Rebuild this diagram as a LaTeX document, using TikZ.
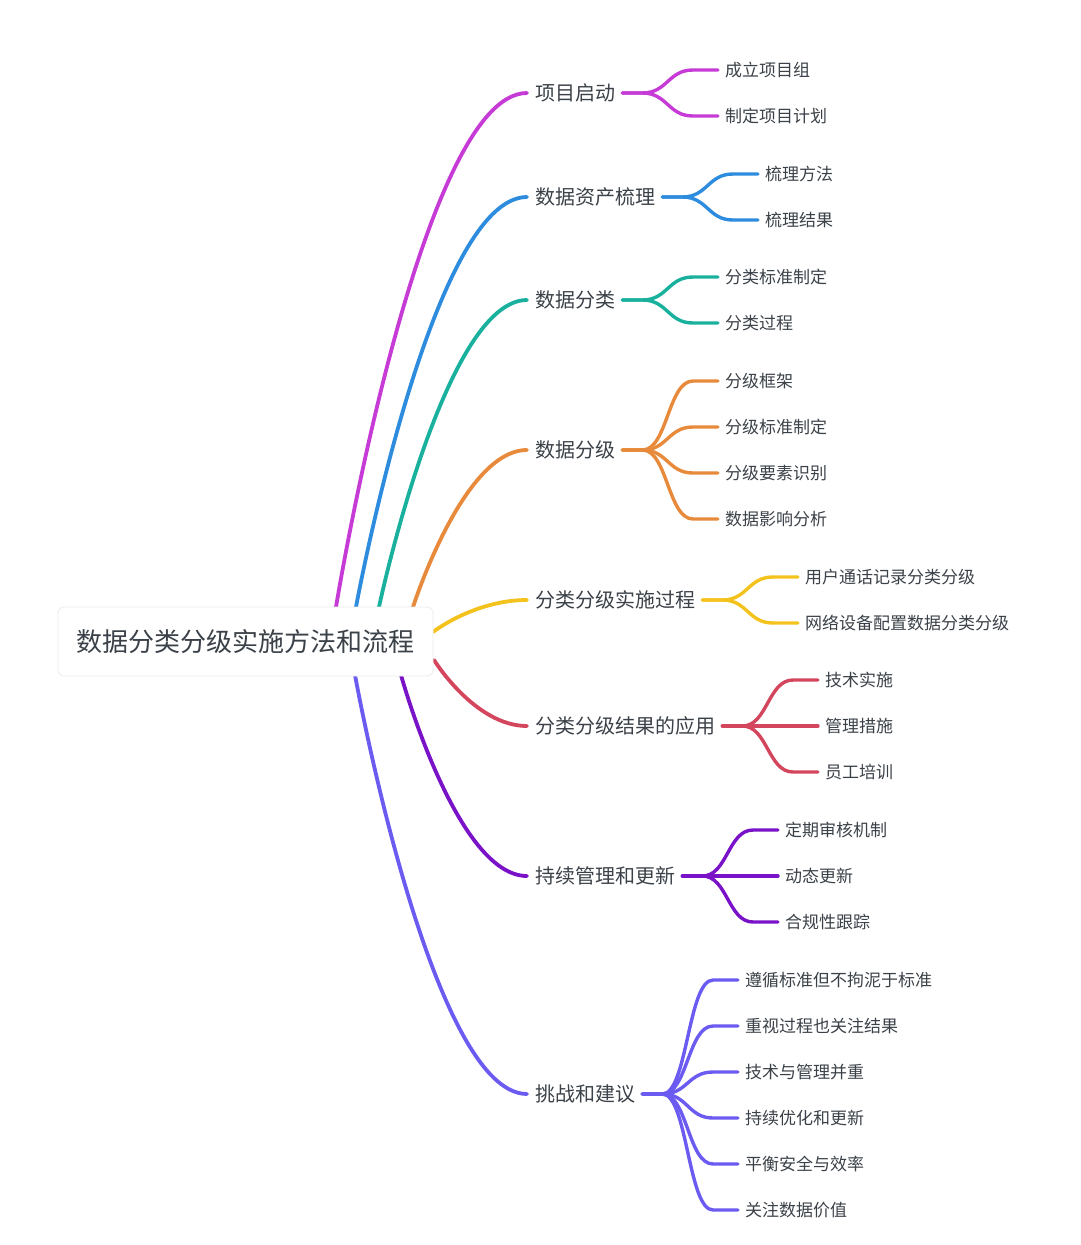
\documentclass[tikz,border=0pt]{standalone}
\usepackage{fontspec}
\setmainfont{Noto Sans CJK SC}
\usetikzlibrary{calc,backgrounds}
\definecolor{txt}{HTML}{3B4148}
\definecolor{rootline}{HTML}{ECECEC}
\definecolor{ca}{HTML}{C63AD6}
\definecolor{cb}{HTML}{2E8CDE}
\definecolor{cc}{HTML}{19B19D}
\definecolor{cd}{HTML}{E88A3B}
\definecolor{ce}{HTML}{F4C21D}
\definecolor{cf}{HTML}{D4465D}
\definecolor{cg}{HTML}{7A12C8}
\definecolor{ch}{HTML}{6B5BF1}
\tikzset{
  rootbox/.style={draw=rootline, line width=0.8pt, fill=white, rounded corners=6pt, minimum width=375pt, minimum height=69pt, inner sep=0pt, font=\fontsize{26}{30}\selectfont, text=txt},
  lone/.style={anchor=west, inner sep=0pt, font=\fontsize{20}{24}\selectfont, text=txt, text height=1.4em, text depth=0em},
  ltwo/.style={anchor=west, inner sep=0pt, font=\fontsize{17}{20}\selectfont, text=txt, text height=1.34em, text depth=0em},
  mainln/.style={line width=3.8pt, line cap=round},
  subln/.style={line width=3.4pt, line cap=round}
}
\newcommand\mainlink[3]{%
  \draw[mainln,#1] let \p1=(#2), \p2=([xshift=-8pt]#3.west) in
    (\p1) .. controls (\p1) and ({\x1+0.44*(\x2-\x1)},\y2) .. (\p2);}
\newcommand\sublink[3]{%
  \draw[subln,#1] ([xshift=7pt]#2.east) -- ([xshift=27pt]#2.east)
    .. controls +(25,0) and +(-25,0) .. ([xshift=-32pt]#3.west) -- ([xshift=-7pt]#3.west);}
\begin{document}
\begin{tikzpicture}[x=1pt,y=-1pt]
\useasboundingbox (0,0) rectangle (1080,1245);
% root
\node[rootbox] (root) at (245.5,641.5) {数据分类分级实施方法和流程};
\coordinate (s1) at (336,607);
\coordinate (s2) at (356,607);
\coordinate (s3) at (379,607);
\coordinate (s4) at (413,607);
\coordinate (s5) at (433,632);
\coordinate (s6) at (434,660);
\coordinate (s7) at (401,675);
\coordinate (s8) at (355,675);
% level 1
\node[lone] (n1) at (535,93) {项目启动};
\node[lone] (n2) at (535,197) {数据资产梳理};
\node[lone] (n3) at (535,300) {数据分类};
\node[lone] (n4) at (535,450) {数据分级};
\node[lone] (n5) at (535,600) {分类分级实施过程};
\node[lone] (n6) at (535,726) {分类分级结果的应用};
\node[lone] (n7) at (535,876) {持续管理和更新};
\node[lone] (n8) at (535,1094) {挑战和建议};
% level 2
\node[ltwo] (a1) at (725,70) {成立项目组};
\node[ltwo] (a2) at (725,116) {制定项目计划};
\node[ltwo] (b1) at (765,174) {梳理方法};
\node[ltwo] (b2) at (765,220) {梳理结果};
\node[ltwo] (c1) at (725,277) {分类标准制定};
\node[ltwo] (c2) at (725,323) {分类过程};
\node[ltwo] (d1) at (725,381) {分级框架};
\node[ltwo] (d2) at (725,427) {分级标准制定};
\node[ltwo] (d3) at (725,473) {分级要素识别};
\node[ltwo] (d4) at (725,519) {数据影响分析};
\node[ltwo] (e1) at (805,577) {用户通话记录分类分级};
\node[ltwo] (e2) at (805,623) {网络设备配置数据分类分级};
\node[ltwo] (f1) at (825,680) {技术实施};
\node[ltwo] (f2) at (825,726) {管理措施};
\node[ltwo] (f3) at (825,772) {员工培训};
\node[ltwo] (g1) at (785,830) {定期审核机制};
\node[ltwo] (g2) at (785,876) {动态更新};
\node[ltwo] (g3) at (785,922) {合规性跟踪};
\node[ltwo] (h1) at (745,980) {遵循标准但不拘泥于标准};
\node[ltwo] (h2) at (745,1026) {重视过程也关注结果};
\node[ltwo] (h3) at (745,1072) {技术与管理并重};
\node[ltwo] (h4) at (745,1118) {持续优化和更新};
\node[ltwo] (h5) at (745,1164) {平衡安全与效率};
\node[ltwo] (h6) at (745,1210) {关注数据价值};
% main links
\begin{scope}[on background layer]
\mainlink{ca}{s1}{n1}
\mainlink{cb}{s2}{n2}
\mainlink{cc}{s3}{n3}
\mainlink{cd}{s4}{n4}
\mainlink{ce}{s5}{n5}
\mainlink{cf}{s6}{n6}
\mainlink{cg}{s7}{n7}
\mainlink{ch}{s8}{n8}
\end{scope}
% sub links
\sublink{ca}{n1}{a1}
\sublink{ca}{n1}{a2}
\sublink{cb}{n2}{b1}
\sublink{cb}{n2}{b2}
\sublink{cc}{n3}{c1}
\sublink{cc}{n3}{c2}
\sublink{cd}{n4}{d1}
\sublink{cd}{n4}{d2}
\sublink{cd}{n4}{d3}
\sublink{cd}{n4}{d4}
\sublink{ce}{n5}{e1}
\sublink{ce}{n5}{e2}
\sublink{cf}{n6}{f1}
\sublink{cf}{n6}{f2}
\sublink{cf}{n6}{f3}
\sublink{cg}{n7}{g1}
\sublink{cg}{n7}{g2}
\sublink{cg}{n7}{g3}
\sublink{ch}{n8}{h1}
\sublink{ch}{n8}{h2}
\sublink{ch}{n8}{h3}
\sublink{ch}{n8}{h4}
\sublink{ch}{n8}{h5}
\sublink{ch}{n8}{h6}
\end{tikzpicture}
\end{document}
